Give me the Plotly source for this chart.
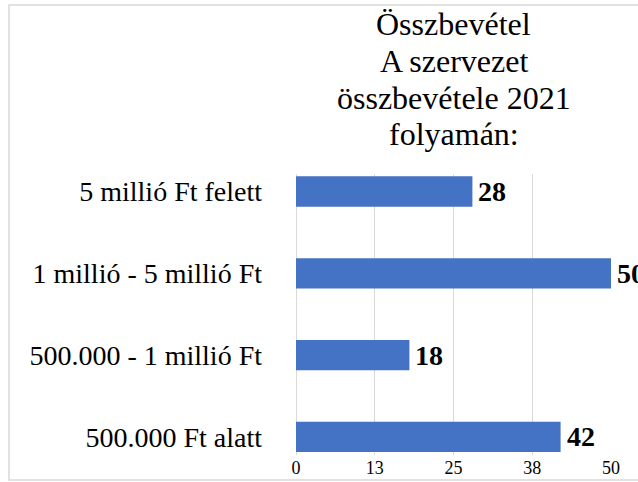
import plotly.graph_objects as go

categories = ["5 millió Ft felett", "1 millió - 5 millió Ft", "500.000 - 1 millió Ft", "500.000 Ft alatt"]
values = [28, 50, 18, 42]
tick_vals = [0, 12.5, 25, 37.5, 50]
tick_text = ["0", "13", "25", "38", "50"]
title_lines = ["Összbevétel", "A szervezet", "összbevétele 2021", "folyamán:"]

W, H = 638, 482
L, R, T, B = 296, 27, 174, 27
pw, ph = W - L - R, H - T - B

SERIF = "Liberation Serif, Times New Roman, serif"

fig = go.Figure()
fig.add_trace(go.Bar(
    x=values, y=categories, orientation="h",
    marker=dict(color="#4472C4", line=dict(width=0)),
    width=0.37, hoverinfo="skip",
))

annotations = []
for c, v in zip(categories, values):
    annotations.append(dict(
        x=v, y=c, xref="x", yref="y", text=f"<b>{v}</b>", showarrow=False,
        xanchor="left", yanchor="middle", xshift=4,
        font=dict(family=SERIF, size=28, color="#000000"),
    ))

# title lines
line_centers_px = [24, 61, 98, 134]
for txt, py in zip(title_lines, line_centers_px):
    annotations.append(dict(
        x=0.5, y=(H - B - py) / ph, xref="paper", yref="paper",
        text=txt, showarrow=False, xanchor="center", yanchor="middle",
        font=dict(family=SERIF, size=32, color="#000000"),
    ))

# chart border
bx0, by0, bx1, by1 = 9, 5, 645, 480
shapes = [dict(
    type="rect", xref="paper", yref="paper",
    x0=(bx0 - L) / pw, x1=(bx1 - L) / pw,
    y0=(H - B - by1) / ph, y1=(H - B - by0) / ph,
    line=dict(color="#d9d9d9", width=1.5), fillcolor="rgba(0,0,0,0)", layer="below",
)]

fig.update_layout(
    width=W, height=H, autosize=False,
    margin=dict(l=L, r=R, t=T, b=B, pad=0, autoexpand=False),
    paper_bgcolor="white", plot_bgcolor="white",
    showlegend=False,
    annotations=annotations,
    shapes=shapes,
    xaxis=dict(
        range=[0, 50], tickvals=tick_vals, ticktext=tick_text,
        showgrid=True, gridcolor="#d9d9d9", gridwidth=1.3,
        zeroline=True, zerolinecolor="#d9d9d9", zerolinewidth=1.3,
        showline=False, ticks="", automargin=False,
        tickfont=dict(family=SERIF, size=18, color="#000000"),
        fixedrange=True,
    ),
    yaxis=dict(
        categoryorder="array", categoryarray=categories,
        range=[3.221, -0.214],
        showgrid=False, zeroline=False, showline=False, ticks="",
        automargin=False,
        ticklabelstandoff=33,
        tickfont=dict(family=SERIF, size=28, color="#000000"),
        fixedrange=True,
    ),
)

fig.write_html(
    "out.html",
    config={"displayModeBar": False, "responsive": False},
    post_script="document.body.style.margin='0';document.body.style.overflow='hidden';",
)
